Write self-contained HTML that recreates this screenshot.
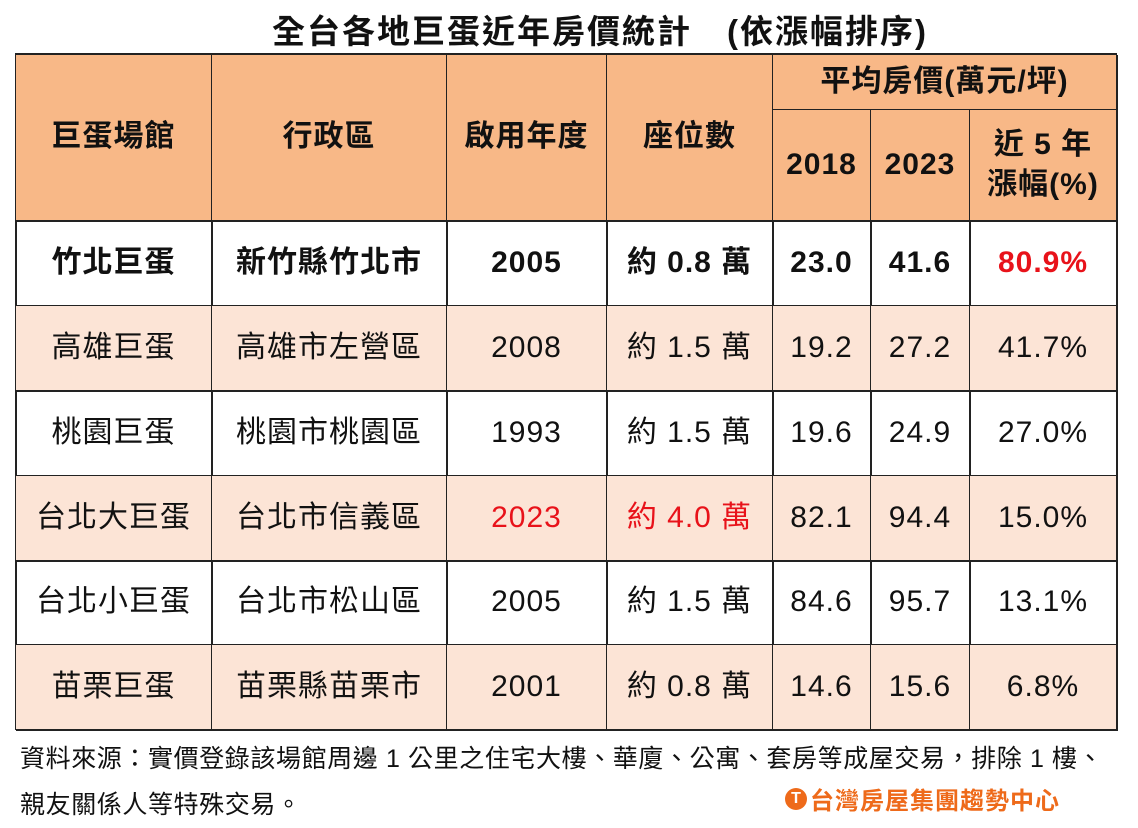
<!DOCTYPE html>
<html><head><meta charset="utf-8"><style>
body{margin:0;width:1138px;height:823px;background:#fff;position:relative;overflow:hidden;font-family:"Liberation Sans","Noto Sans CJK TC",sans-serif;color:#111}
.c{position:absolute;display:flex;align-items:center;justify-content:center;text-align:center;font-size:30px;letter-spacing:1px;box-sizing:border-box;border-right:2px solid #222;border-bottom:2px solid #222;line-height:1.35}
.h{background:#F8B887}
.p{background:#FCE4D6}
.r{color:#e8121a}
.b{font-weight:bold}
</style></head><body>
<div style="position:absolute;left:0;width:1200px;top:5px;text-align:center;font-size:33px;letter-spacing:2px;font-weight:bold;white-space:pre">全台各地巨蛋近年房價統計　(依漲幅排序)</div>
<div style="position:absolute;left:15px;top:53px;width:1102px;height:677px;border-left:2px solid #222;border-top:2px solid #222;box-sizing:border-box"></div>
<div id="t"></div>
<script>
const X=[16,212,447,607,773,871,970,1117];
const Y=[55,221,306,391,476,561,645,730];
let h='';
function cell(x0,x1,y0,y1,txt,cls){h+=`<div class="c ${cls}" style="left:${x0}px;top:${y0}px;width:${x1-x0+1}px;height:${y1-y0+1}px">${txt}</div>`;}
const H=['巨蛋場館','行政區','啟用年度','座位數'];
for(let i=0;i<4;i++)cell(X[i],X[i+1],Y[0],Y[1],H[i],'h b');
cell(X[4],X[7],Y[0],110,'平均房價(萬元/坪)','h b');
cell(X[4],X[5],110,Y[1],'2018','h b');
cell(X[5],X[6],110,Y[1],'2023','h b');
cell(X[6],X[7],110,Y[1],'近 5 年<br>漲幅(%)','h b');
const D=[['竹北巨蛋','新竹縣竹北市','2005','約 0.8 萬','23.0','41.6','80.9%'],
['高雄巨蛋','高雄市左營區','2008','約 1.5 萬','19.2','27.2','41.7%'],
['桃園巨蛋','桃園市桃園區','1993','約 1.5 萬','19.6','24.9','27.0%'],
['台北大巨蛋','台北市信義區','2023','約 4.0 萬','82.1','94.4','15.0%'],
['台北小巨蛋','台北市松山區','2005','約 1.5 萬','84.6','95.7','13.1%'],
['苗栗巨蛋','苗栗縣苗栗市','2001','約 0.8 萬','14.6','15.6','6.8%']];
D.forEach((r,ri)=>{r.forEach((t,ci)=>{let cls=ri%2?'p':'';if(ri==0)cls+=' b';if(ri==0&&ci==6)cls+=' r';if(ri==3&&(ci==2||ci==3))cls+=' r';cell(X[ci],X[ci+1],Y[ri+1],Y[ri+2],t,cls);});});
document.getElementById('t').innerHTML=h;
</script>
<div style="position:absolute;left:20px;top:736px;font-size:25px;letter-spacing:0.6px;line-height:46px;width:1115px;white-space:nowrap">資料來源：實價登錄該場館周邊 1 公里之住宅大樓、華廈、公寓、套房等成屋交易，排除 1 樓、<br>親友關係人等特殊交易。</div>
<div style="position:absolute;left:785px;top:781px;font-size:24px;letter-spacing:1px;font-weight:bold;color:#ee6a1a;display:flex;align-items:center"><span style="display:inline-block;width:22px;height:22px;border-radius:50%;background:#ee6a1a;color:#fff;font-size:16px;line-height:22px;text-align:center;margin-right:3px;letter-spacing:0">T</span>台灣房屋集團趨勢中心</div>
</body></html>
